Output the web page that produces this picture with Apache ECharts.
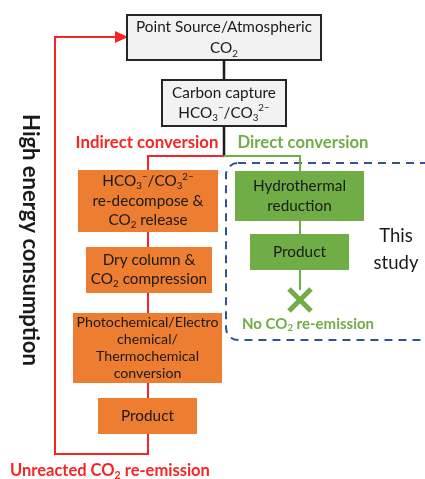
<!DOCTYPE html>
<html><head><meta charset="utf-8">
<script src="https://cdn.jsdelivr.net/npm/echarts@6/dist/echarts.min.js"></script>
<style>html,body{margin:0;padding:0;background:#fff}#c{width:425px;height:479px}</style>
</head><body><div id="c"></div>
<script>
// ---- content ----
const sourceLabel = ['{n|Point Source/Atmospheric}', '{n|CO}{sub|2}'];
const captureLabel = ['{n|Carbon capture}', '{n|HCO}{sub|3}{sup|−}{n|/CO}{sub|3}{sup|2−}'];
const indirectSteps = [
  ['{n|HCO}{sub|3}{sup|−}{n|/CO}{sub|3}{sup|2−}', '{n|re-decompose &}', '{n|CO}{sub|2}{n| release}'],
  ['{n|Dry column &}', '{n|CO}{sub|2}{n| compression}'],
  ['{n|Photochemical/Electro}', '{n|chemical/}', '{n|Thermochemical}', '{n|conversion}'],
  ['{n|Product}']
];
const directSteps = [['{n|Hydrothermal}', '{n|reduction}'], ['{n|Product}']];
const branchLabels = ['Indirect conversion', 'Direct conversion'];
const outcomeLabels = ['{b|Unreacted CO}{bs|2}{b| re-emission}', '{b|No CO}{bs|2}{b| re-emission}'];
const sideLabels = ['High energy consumption', 'This\nstudy'];

// ---- layout (pixels) ----
const FONT = 'Lato, "Open Sans", sans-serif';
const RED = '#f52525', GREEN = '#70AD47', ORANGE = '#ED7D31', BLUE = '#2F5597', DARK = '#1a1a1a';
const BASE = 15.3;
const L = {
  source: [127, 15, 194, 45],
  capture: [162, 80, 124, 46],
  indirect: [[78, 170, 140, 62], [86, 247, 126, 46], [73, 313, 149, 70], [98, 398, 99, 36]],
  indirectLH: [19.5, 19, 17, 19],
  indirectFS: [BASE, BASE, 14.2, BASE],
  direct: [[235, 171, 129, 50], [250, 234, 99, 36]],
  directLH: [20, 19]
};

function rich(lh, size, color) {
  size = size || BASE; color = color || DARK;
  return {
    n: {fontSize: size, fontFamily: FONT, fill: color, lineHeight: lh},
    sub: {fontSize: size * 0.64, fontFamily: FONT, fill: color, lineHeight: 10, verticalAlign: 'bottom'},
    sup: {fontSize: size * 0.64, fontFamily: FONT, fill: color, lineHeight: 10, verticalAlign: 'top'},
    b: {fontSize: size, fontFamily: FONT, fontWeight: 'bold', fill: color, lineHeight: lh},
    bs: {fontSize: size * 0.64, fontFamily: FONT, fontWeight: 'bold', fill: color, lineHeight: 9, verticalAlign: 'bottom'}
  };
}

const els = [];
function box(r, fill, stroke, lines, lh, fs) {
  els.push({type: 'rect', z: 10, shape: {x: r[0], y: r[1], width: r[2], height: r[3]},
    style: {fill: fill, stroke: stroke || null, lineWidth: stroke ? 2 : 0}});
  els.push({type: 'text', z: 11, x: r[0] + r[2] / 2, y: r[1] + r[3] / 2,
    style: {text: lines.join('\n'), rich: rich(lh, fs), align: 'center', verticalAlign: 'middle',
      textAlign: 'center', textVerticalAlign: 'middle'}});
}
function line(pts, color, w) {
  els.push({type: 'polyline', z: 5, shape: {points: pts}, style: {stroke: color, lineWidth: w, fill: null}});
}
function label(x, y, text, r, align, rot) {
  els.push({type: 'text', z: 12, x: x, y: y, rotation: rot || 0,
    style: {text: text, rich: r, align: align || 'center', verticalAlign: 'middle',
      textAlign: align || 'center', textVerticalAlign: 'middle'}});
}

// dashed "This study" frame
els.push({type: 'rect', z: 1, shape: {x: 226, y: 163, width: 230, height: 177, r: 12},
  style: {fill: null, stroke: BLUE, lineWidth: 2, lineDash: [8, 6]}});

// connectors
line([[224, 60], [224, 80]], DARK, 2.5);
line([[224, 126], [224, 156]], DARK, 2.5);
line([[224, 156], [148, 156], [148, 170]], RED, 2);
line([[148, 232], [148, 247]], RED, 2);
line([[148, 293], [148, 313]], RED, 2);
line([[148, 383], [148, 398]], RED, 2);
line([[148, 434], [148, 454], [55, 454], [55, 37], [117, 37]], RED, 2);
els.push({type: 'polygon', z: 6, shape: {points: [[115, 31], [128, 37], [115, 43]]}, style: {fill: RED}});
line([[224, 156], [300, 156], [300, 171]], GREEN, 2);
line([[300, 221], [300, 234]], GREEN, 2);
line([[300, 270], [300, 290]], GREEN, 2);
line([[289, 289], [311, 311]], GREEN, 5);
line([[311, 289], [289, 311]], GREEN, 5);

// boxes
box(L.source, '#F2F2F2', '#262626', sourceLabel, 21, BASE);
box(L.capture, '#F2F2F2', '#262626', captureLabel, 20, BASE);
indirectSteps.forEach((s, i) => box(L.indirect[i], ORANGE, null, s, L.indirectLH[i], L.indirectFS[i]));
directSteps.forEach((s, i) => box(L.direct[i], GREEN, null, s, L.directLH[i], BASE));

// labels
label(147, 143, '{b|' + branchLabels[0] + '}', rich(20, 16.8, RED));
label(303, 143, '{b|' + branchLabels[1] + '}', rich(20, 16.7, GREEN));
label(10, 471, outcomeLabels[0], rich(20, 16.5, RED), 'left');
label(308, 324, outcomeLabels[1], rich(18, 15, GREEN));
label(30, 240, '{b|' + sideLabels[0] + '}', rich(24, 22, DARK), 'center', -Math.PI / 2);
label(396, 250, sideLabels[1].split('\n').map(s => '{n|' + s + '}').join('\n'), rich(27, 18.5, DARK));

const chart = echarts.init(document.getElementById('c'), null, {renderer: 'canvas'});
chart.setOption({backgroundColor: '#fff', animation: false, graphic: {elements: els}});
</script></body></html>
